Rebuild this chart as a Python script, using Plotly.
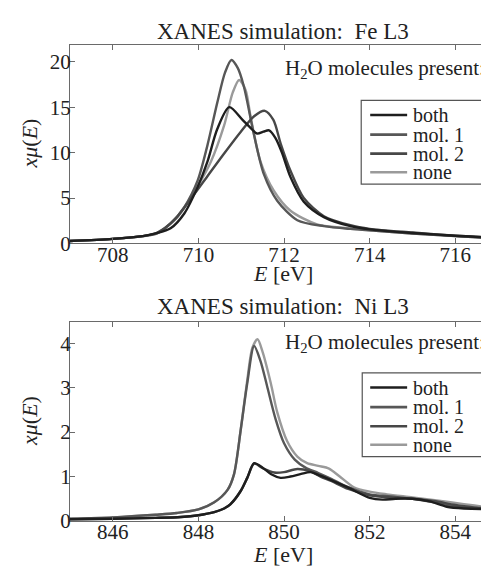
import plotly.graph_objects as go

# ---------------- data ----------------
series_names = ["both", "mol. 1", "mol. 2", "none"]
series_colors = ["#1e1e1e", "#575757", "#474747", "#9a9a9a"]

# Fe L3
fe_both_E = [707.0, 708.0, 708.7, 709.0, 709.35, 709.67, 709.98, 710.21, 710.44, 710.72, 711.03, 711.2, 711.37, 711.52, 711.65, 711.8, 711.95, 712.15, 712.46, 712.93, 713.55, 714.0, 715.0, 716.0, 717.0]
fe_both_y = [0.27, 0.5, 0.8, 1.1, 1.67, 3.3, 6.2, 9.0, 12.6, 15.0, 13.6, 12.8, 12.1, 12.3, 12.45, 11.6, 10.0, 7.3, 4.6, 2.9, 1.9, 1.55, 1.15, 0.85, 0.6]

fe_mol1_E = [707.0, 708.0, 708.7, 709.04, 709.35, 709.67, 709.98, 710.21, 710.44, 710.62, 710.77, 710.92, 711.06, 711.3, 711.53, 711.84, 712.31, 712.93, 713.55, 714.0, 715.0, 716.0, 717.0]
fe_mol1_y = [0.27, 0.5, 0.8, 1.13, 2.2, 4.0, 6.9, 10.8, 15.5, 18.8, 20.2, 19.3, 17.3, 11.9, 7.6, 4.7, 2.56, 1.9, 1.6, 1.45, 1.1, 0.8, 0.55]

fe_mol2_E = [707.0, 708.0, 708.7, 709.04, 709.43, 709.82, 710.21, 710.6, 710.99, 711.3, 711.55, 711.75, 711.92, 712.15, 712.46, 712.93, 713.55, 714.0, 715.0, 716.0, 717.0]
fe_mol2_y = [0.27, 0.5, 0.8, 1.2, 2.56, 4.9, 7.4, 9.9, 12.3, 14.0, 14.6, 13.6, 11.0, 8.0, 5.0, 3.0, 2.0, 1.6, 1.2, 0.85, 0.6]

fe_none_E = [707.0, 708.0, 708.7, 709.04, 709.51, 709.98, 710.29, 710.6, 710.8, 710.95, 711.1, 711.22, 711.45, 711.76, 712.15, 712.77, 713.55, 714.0, 715.0, 716.0, 717.0]
fe_none_y = [0.27, 0.5, 0.8, 1.1, 2.9, 6.3, 9.0, 13.0, 16.6, 18.0, 16.9, 13.9, 9.0, 5.8, 3.6, 2.1, 1.65, 1.45, 1.1, 0.8, 0.55]

# Ni L3
ni_both_E = [845.0, 846.0, 847.0, 847.59, 848.0, 848.37, 848.6, 848.75, 848.99, 849.14, 849.3, 849.5, 849.7, 849.92, 850.15, 850.4, 850.62, 850.85, 851.1, 851.5, 852.0, 852.3, 852.6, 853.0, 853.4, 853.8, 854.2, 854.6, 855.0]
ni_both_y = [0.04, 0.05, 0.07, 0.09, 0.13, 0.2, 0.28, 0.38, 0.68, 0.97, 1.3, 1.2, 1.05, 0.97, 1.0, 1.06, 1.1, 1.02, 0.92, 0.75, 0.52, 0.48, 0.5, 0.5, 0.44, 0.32, 0.28, 0.27, 0.28]

ni_mol1_E = [845.0, 846.0, 847.0, 847.5, 848.0, 848.37, 848.68, 848.83, 848.99, 849.14, 849.3, 849.45, 849.6, 849.8, 850.0, 850.25, 850.5, 850.8, 851.1, 851.5, 852.0, 852.5, 853.0, 853.5, 854.0, 854.5, 855.0]
ni_mol1_y = [0.05, 0.08, 0.14, 0.18, 0.26, 0.42, 0.7, 1.05, 2.07, 3.1, 3.94, 3.6, 3.05, 2.3, 1.75, 1.38, 1.2, 1.08, 0.95, 0.76, 0.6, 0.55, 0.5, 0.42, 0.33, 0.28, 0.27]

ni_mol2_E = [845.0, 846.0, 847.0, 847.59, 848.0, 848.37, 848.6, 848.75, 848.99, 849.14, 849.3, 849.5, 849.77, 850.0, 850.31, 850.6, 850.85, 851.1, 851.5, 852.0, 852.5, 853.0, 853.5, 854.0, 854.5, 855.0]
ni_mol2_y = [0.04, 0.05, 0.07, 0.09, 0.13, 0.2, 0.28, 0.38, 0.68, 0.97, 1.29, 1.19, 1.09, 1.1, 1.17, 1.12, 1.0, 0.9, 0.72, 0.58, 0.53, 0.5, 0.45, 0.36, 0.3, 0.28]

ni_none_E = [845.0, 846.0, 847.0, 847.5, 848.0, 848.37, 848.68, 848.83, 848.99, 849.14, 849.26, 849.38, 849.5, 849.69, 849.84, 850.07, 850.31, 850.54, 850.8, 851.05, 851.3, 851.63, 852.0, 852.4, 853.0, 853.57, 854.2, 854.74, 855.0]
ni_none_y = [0.05, 0.08, 0.14, 0.18, 0.26, 0.42, 0.7, 1.05, 2.07, 3.17, 3.9, 4.09, 3.8, 3.1, 2.45, 1.8, 1.45, 1.3, 1.24, 1.18, 1.0, 0.76, 0.66, 0.6, 0.53, 0.46, 0.38, 0.31, 0.28]

fe_x_ticks = [708, 710, 712, 714, 716]
fe_y_ticks = [0, 5, 10, 15, 20]
ni_x_ticks = [846, 848, 850, 852, 854]
ni_y_ticks = [0, 1, 2, 3, 4]

titles = ["XANES simulation:  Fe L3", "XANES simulation:  Ni L3"]
panel_note = "H<sub>2</sub>O molecules present:"
x_title = "<i>E</i> [eV]"
y_title = "<i>xμ</i>(<i>E</i>)"

# ---------------- figure ----------------
SERIF = '"Liberation Serif", "DejaVu Serif", serif'
W, H = 489, 570
L = 62.3
fig = go.Figure()

fe_sets = [(fe_both_E, fe_both_y), (fe_mol1_E, fe_mol1_y), (fe_mol2_E, fe_mol2_y), (fe_none_E, fe_none_y)]
ni_sets = [(ni_both_E, ni_both_y), (ni_mol1_E, ni_mol1_y), (ni_mol2_E, ni_mol2_y), (ni_none_E, ni_none_y)]

order = [3, 1, 2, 0]
for i in order:
    ex, ey = fe_sets[i]
    fig.add_trace(go.Scatter(x=ex, y=ey, mode="lines", name=series_names[i],
                             line=dict(color=series_colors[i], width=2.4, shape="spline", smoothing=0.8),
                             xaxis="x", yaxis="y", showlegend=False))
for i in order:
    ex, ey = ni_sets[i]
    fig.add_trace(go.Scatter(x=ex, y=ey, mode="lines", name=series_names[i],
                             line=dict(color=series_colors[i], width=2.4, shape="spline", smoothing=0.8),
                             xaxis="x2", yaxis="y2", showlegend=False))

def ydom(top_px, bot_px):
    return [1 - bot_px / H, 1 - top_px / H]

axis_common = dict(showline=True, linecolor="#6a6a6a", linewidth=1, mirror="ticks",
                   ticks="inside", ticklen=5, tickcolor="#6a6a6a", showgrid=False, zeroline=False,
                   tickfont=dict(family=SERIF, size=21, color="#222"))

fig.update_layout(
    width=W, height=H,
    margin=dict(l=L, r=0, t=0, b=0),
    plot_bgcolor="white", paper_bgcolor="white",
    font=dict(family=SERIF, color="#222"),
    xaxis=dict(domain=[0, 1], range=[707, 716.95], anchor="y", tickvals=fe_x_ticks, ticklabelstandoff=-8, **axis_common),
    yaxis=dict(domain=ydom(37.3, 240.5), range=[0, 21.9], anchor="x", tickvals=fe_y_ticks, ticklabelstandoff=-6, **axis_common),
    xaxis2=dict(domain=[0, 1], range=[845, 854.95], anchor="y2", tickvals=ni_x_ticks, ticklabelstandoff=-8, **axis_common),
    yaxis2=dict(domain=ydom(320.7, 524.0), range=[0, 4.48], anchor="x2", tickvals=ni_y_ticks, ticklabelstandoff=-6, **axis_common),
    showlegend=False,
)

panels = [
    dict(xr="x domain", yr="y domain", h=203.2, title_y=1.067, xt_y=-0.15, note_y=0.878,
         box=(0.6836, 0.9766, 0.2977, 0.7195)),
    dict(xr="x2 domain", yr="y2 domain", h=203.3, title_y=1.077, xt_y=-0.167, note_y=0.893,
         box=(0.686, 0.979, 0.3232, 0.7442)),
]
item_offsets = [15.0, 35.0, 54.5, 73.5]
for p, ttl in zip(panels, titles):
    xr, yr = p["xr"], p["yr"]
    fig.add_annotation(text=ttl, xref=xr, yref=yr, x=0.5, y=p["title_y"], showarrow=False,
                       xanchor="center", yanchor="middle", font=dict(family=SERIF, size=23, color="#222"))
    fig.add_annotation(text=x_title, xref=xr, yref=yr, x=0.5, y=p["xt_y"], showarrow=False,
                       xanchor="center", yanchor="middle", font=dict(family=SERIF, size=22, color="#222"))
    fig.add_annotation(text=y_title, xref=xr, yref=yr, x=-0.095, y=0.5, showarrow=False, textangle=-90,
                       xanchor="center", yanchor="middle", font=dict(family=SERIF, size=22, color="#222"))
    fig.add_annotation(text=panel_note, xref=xr, yref=yr, x=0.979, y=p["note_y"], showarrow=False,
                       xanchor="right", yanchor="middle", font=dict(family=SERIF, size=21, color="#222"))
    x0, x1, y0, y1 = p["box"]
    fig.add_shape(type="rect", xref=xr, yref=yr, x0=x0, x1=x1, y0=y0, y1=y1,
                  line=dict(color="#555", width=1.2), fillcolor="white", layer="above")
    for k, name in enumerate(series_names):
        yy = y1 - item_offsets[k] / p["h"]
        fig.add_shape(type="line", xref=xr, yref=yr, x0=0.7047, x1=0.7914, y0=yy, y1=yy,
                      line=dict(color=series_colors[k], width=2.6), layer="above")
        fig.add_annotation(text=name, xref=xr, yref=yr, x=0.8007, y=yy, showarrow=False,
                           xanchor="left", yanchor="middle", font=dict(family=SERIF, size=20, color="#222"))

fig.write_html("out.html")
